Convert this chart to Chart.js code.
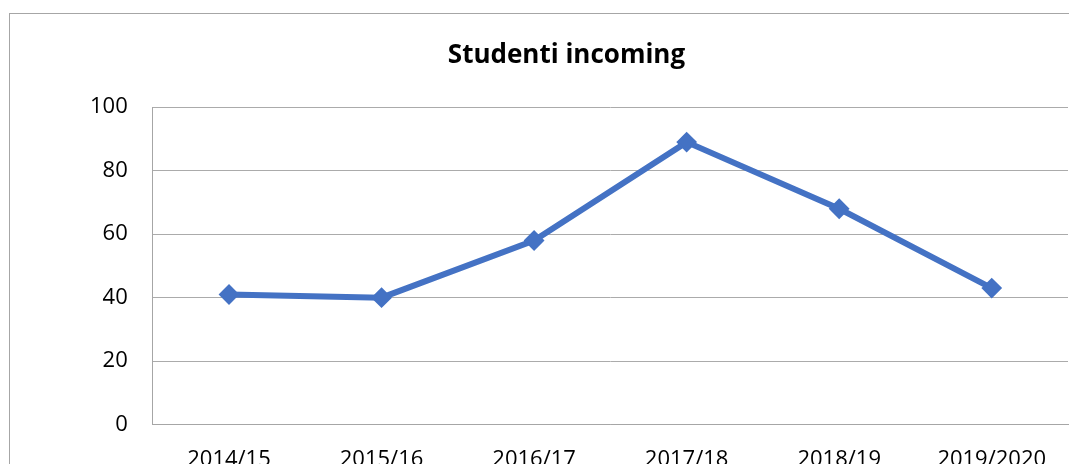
<!DOCTYPE html>
<html lang="it">
<head>
  <meta charset="UTF-8" />
  <title>Studenti incoming</title>
  <script src="https://cdn.jsdelivr.net/npm/chart.js"></script>
  <style>
    html, body {
      margin: 0;
      padding: 0;
      background: #fff;
      overflow: hidden;
      width: 1069px;
      height: 464px;
    }
    #wrap {
      position: absolute;
      left: 9px;
      top: 13px;
      width: 1072px;
      height: 490px;
      border: 1px solid #a6a6a6;
    }
  </style>
</head>
<body>
  <div id="wrap"><canvas id="chart"></canvas></div>

  <script>
    const years = ['2014/15', '2015/16', '2016/17', '2017/18', '2018/19', '2019/2020'];
    const incoming = [41, 40, 58, 89, 68, 43];
    const yTicks = [0, 20, 40, 60, 80, 100];

    const font = 'Open Sans, Calibri, Arial, sans-serif';

    new Chart(document.getElementById('chart'), {
      type: 'line',
      data: {
        labels: years,
        datasets: [{
          label: 'Studenti incoming',
          data: incoming,
          borderColor: '#4472C4',
          backgroundColor: '#4472C4',
          borderWidth: 6,
          tension: 0,
          pointStyle: 'rectRot',
          pointRadius: 9,
          pointBorderWidth: 2,
          pointBackgroundColor: '#4472C4',
          pointBorderColor: '#4472C4'
        }]
      },
      options: {
        responsive: true,
        maintainAspectRatio: false,
        animation: false,
        layout: { padding: { left: 55, right: 14, top: 0, bottom: 17 } },
        plugins: {
          legend: { display: false },
          tooltip: { enabled: false },
          title: {
            display: true,
            text: 'Studenti incoming',
            color: '#000',
            font: { family: font, size: 26, weight: 'bold' },
            padding: { top: 26, bottom: 36 }
          }
        },
        scales: {
          x: {
            offset: true,
            grid: { display: false, offset: true },
            border: { display: true, color: '#a6a6a6', width: 1 },
            ticks: {
              color: '#000',
              font: { family: font, size: 22 },
              padding: 14,
              maxRotation: 0,
              autoSkip: false
            }
          },
          y: {
            min: 0,
            max: 100,
            afterBuildTicks: axis => { axis.ticks = yTicks.map(v => ({ value: v })); },
            grid: { color: '#ababab', lineWidth: 1, drawTicks: false },
            border: { display: true, color: '#a6a6a6', width: 1 },
            ticks: {
              color: '#000',
              font: { family: font, size: 22 },
              padding: 25
            }
          }
        }
      }
    });
  </script>
</body>
</html>
